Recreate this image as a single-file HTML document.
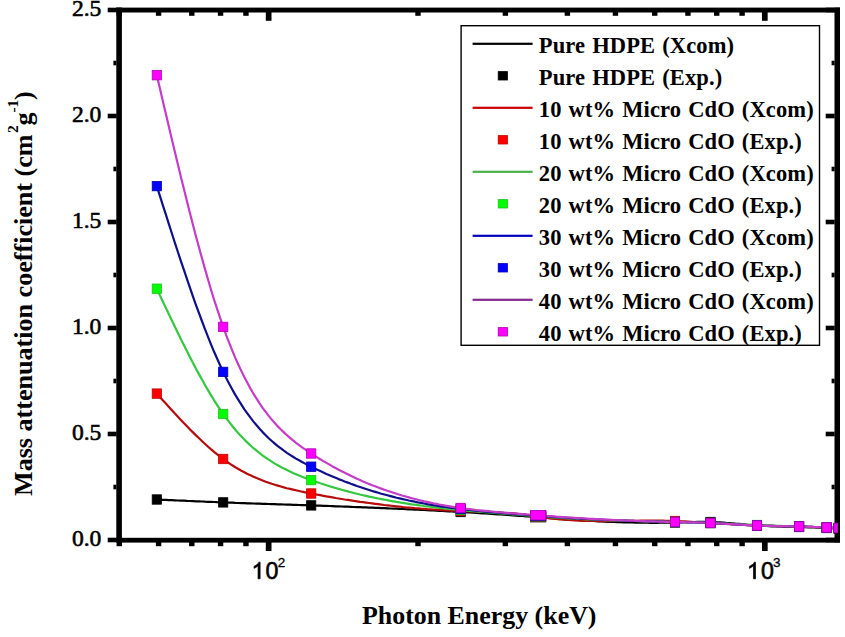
<!DOCTYPE html>
<html><head><meta charset="utf-8"><style>
html,body{margin:0;padding:0;background:#fff;}
svg{display:block;}
.yt{font-family:"Liberation Serif",serif;font-size:23.6px;fill:#000;stroke:#000;stroke-width:0.6px;}
.xt{font-family:"Liberation Sans",sans-serif;font-size:23.2px;fill:#000;stroke:#000;stroke-width:0.6px;}
.xs{font-family:"Liberation Sans",sans-serif;font-size:13.5px;fill:#000;stroke:#000;stroke-width:0.3px;}
.lg{font-family:"Liberation Serif",serif;font-size:22.5px;font-weight:bold;word-spacing:1.3px;letter-spacing:0.12px;fill:#000;}
.tt{font-family:"Liberation Serif",serif;font-size:25.9px;font-weight:bold;fill:#000;}
.tt2{font-family:"Liberation Serif",serif;font-size:26.1px;font-weight:bold;fill:#000;}
.ts{font-family:"Liberation Serif",serif;font-size:15.5px;font-weight:bold;fill:#000;}
</style></head><body>
<svg width="845" height="637" viewBox="0 0 845 637">
<defs><clipPath id="pc"><rect x="119.3" y="0" width="718.2" height="540"/></clipPath></defs>
<rect x="116.3" y="7.5" width="5.6" height="535" fill="#000"/>
<rect x="834.5" y="7.5" width="5.5" height="535" fill="#000"/>
<rect x="116.3" y="7.6" width="723.7" height="4.9" fill="#000"/>
<rect x="116.3" y="537.8" width="723.7" height="4.8" fill="#000"/>
<rect x="107.7" y="537.7" width="9" height="4.6" fill="#000"/>
<rect x="825.7" y="537.7" width="9" height="4.6" fill="#000"/>
<rect x="107.7" y="431.7" width="9" height="4.6" fill="#000"/>
<rect x="825.7" y="431.7" width="9" height="4.6" fill="#000"/>
<rect x="107.7" y="325.7" width="9" height="4.6" fill="#000"/>
<rect x="825.7" y="325.7" width="9" height="4.6" fill="#000"/>
<rect x="107.7" y="219.7" width="9" height="4.6" fill="#000"/>
<rect x="825.7" y="219.7" width="9" height="4.6" fill="#000"/>
<rect x="107.7" y="113.7" width="9" height="4.6" fill="#000"/>
<rect x="825.7" y="113.7" width="9" height="4.6" fill="#000"/>
<rect x="107.7" y="7.7" width="9" height="4.6" fill="#000"/>
<rect x="825.7" y="7.7" width="9" height="4.6" fill="#000"/>
<rect x="113.4" y="484.7" width="3" height="4.6" fill="#000"/>
<rect x="831.6" y="484.7" width="3" height="4.6" fill="#000"/>
<rect x="113.4" y="378.7" width="3" height="4.6" fill="#000"/>
<rect x="831.6" y="378.7" width="3" height="4.6" fill="#000"/>
<rect x="113.4" y="272.7" width="3" height="4.6" fill="#000"/>
<rect x="831.6" y="272.7" width="3" height="4.6" fill="#000"/>
<rect x="113.4" y="166.7" width="3" height="4.6" fill="#000"/>
<rect x="831.6" y="166.7" width="3" height="4.6" fill="#000"/>
<rect x="113.4" y="60.7" width="3" height="4.6" fill="#000"/>
<rect x="831.6" y="60.7" width="3" height="4.6" fill="#000"/>
<rect x="265.80" y="542" width="5.7" height="9" fill="#000"/>
<rect x="265.80" y="12" width="5.7" height="8.8" fill="#000"/>
<rect x="761.95" y="542" width="5.7" height="9" fill="#000"/>
<rect x="761.95" y="12" width="5.7" height="8.8" fill="#000"/>
<rect x="116.59" y="542" width="5.4" height="4.2" fill="#000"/>
<rect x="116.59" y="12" width="5.4" height="3.8" fill="#000"/>
<rect x="155.88" y="542" width="5.4" height="4.2" fill="#000"/>
<rect x="155.88" y="12" width="5.4" height="3.8" fill="#000"/>
<rect x="189.10" y="542" width="5.4" height="4.2" fill="#000"/>
<rect x="189.10" y="12" width="5.4" height="3.8" fill="#000"/>
<rect x="217.87" y="542" width="5.4" height="4.2" fill="#000"/>
<rect x="217.87" y="12" width="5.4" height="3.8" fill="#000"/>
<rect x="243.25" y="542" width="5.4" height="4.2" fill="#000"/>
<rect x="243.25" y="12" width="5.4" height="3.8" fill="#000"/>
<rect x="415.31" y="542" width="5.4" height="4.2" fill="#000"/>
<rect x="415.31" y="12" width="5.4" height="3.8" fill="#000"/>
<rect x="502.67" y="542" width="5.4" height="4.2" fill="#000"/>
<rect x="502.67" y="12" width="5.4" height="3.8" fill="#000"/>
<rect x="564.66" y="542" width="5.4" height="4.2" fill="#000"/>
<rect x="564.66" y="12" width="5.4" height="3.8" fill="#000"/>
<rect x="612.74" y="542" width="5.4" height="4.2" fill="#000"/>
<rect x="612.74" y="12" width="5.4" height="3.8" fill="#000"/>
<rect x="652.03" y="542" width="5.4" height="4.2" fill="#000"/>
<rect x="652.03" y="12" width="5.4" height="3.8" fill="#000"/>
<rect x="685.25" y="542" width="5.4" height="4.2" fill="#000"/>
<rect x="685.25" y="12" width="5.4" height="3.8" fill="#000"/>
<rect x="714.02" y="542" width="5.4" height="4.2" fill="#000"/>
<rect x="714.02" y="12" width="5.4" height="3.8" fill="#000"/>
<rect x="739.40" y="542" width="5.4" height="4.2" fill="#000"/>
<rect x="739.40" y="12" width="5.4" height="3.8" fill="#000"/>
<g clip-path="url(#pc)">
<path d="M156.8,499.5 L159.8,499.6 L162.8,499.8 L165.9,499.9 L168.9,500.1 L171.9,500.2 L174.9,500.3 L177.9,500.5 L180.9,500.6 L184.0,500.7 L187.0,500.9 L190.0,501.0 L193.0,501.1 L196.0,501.3 L199.1,501.4 L202.1,501.5 L205.1,501.7 L208.1,501.8 L211.1,501.9 L214.1,502.0 L217.2,502.2 L220.2,502.3 L223.2,502.4 L226.2,502.5 L229.3,502.6 L232.3,502.7 L235.3,502.9 L238.4,503.0 L241.4,503.1 L244.4,503.2 L247.5,503.3 L250.5,503.4 L253.5,503.5 L256.6,503.6 L259.6,503.7 L262.6,503.8 L265.7,503.9 L268.7,504.0 L271.8,504.1 L274.8,504.2 L277.8,504.3 L280.9,504.4 L283.9,504.5 L286.9,504.6 L290.0,504.7 L293.0,504.8 L296.0,504.9 L299.1,505.0 L302.1,505.1 L305.1,505.2 L308.2,505.3 L311.2,505.4 L314.2,505.5 L317.3,505.6 L320.3,505.7 L323.4,505.8 L326.4,505.9 L329.5,506.0 L332.5,506.1 L335.6,506.3 L338.6,506.4 L341.7,506.5 L344.7,506.6 L347.8,506.7 L350.8,506.8 L353.9,507.0 L356.9,507.1 L360.0,507.2 L363.0,507.3 L366.1,507.4 L369.1,507.6 L372.2,507.7 L375.2,507.8 L378.3,507.9 L381.3,508.1 L384.4,508.2 L387.4,508.3 L390.5,508.5 L393.5,508.6 L396.6,508.7 L399.6,508.9 L402.7,509.0 L405.7,509.2 L408.8,509.3 L411.8,509.5 L414.9,509.6 L417.9,509.7 L421.0,509.9 L424.0,510.0 L427.1,510.2 L430.1,510.4 L433.2,510.5 L436.2,510.7 L439.3,510.8 L442.3,511.0 L445.4,511.2 L448.4,511.3 L451.5,511.5 L454.5,511.7 L457.6,511.8 L460.6,512.0 L463.7,512.2 L466.8,512.4 L469.9,512.5 L473.0,512.7 L476.1,512.9 L479.2,513.1 L482.3,513.3 L485.4,513.5 L488.5,513.7 L491.6,513.9 L494.7,514.1 L497.8,514.3 L500.9,514.5 L504.0,514.7 L507.1,514.9 L510.2,515.1 L513.3,515.4 L516.4,515.6 L519.5,515.8 L522.6,516.0 L525.7,516.3 L528.8,516.5 L531.9,516.8 L535.0,517.0 L538.1,517.2 L541.2,517.5 L544.2,517.7 L547.3,518.0 L550.3,518.2 L553.4,518.4 L556.4,518.7 L559.4,518.9 L562.5,519.1 L565.5,519.3 L568.6,519.5 L571.6,519.7 L574.7,519.9 L577.7,520.1 L580.7,520.3 L583.8,520.5 L586.8,520.7 L589.9,520.9 L592.9,521.0 L595.9,521.2 L599.0,521.3 L602.0,521.5 L605.1,521.6 L608.1,521.8 L611.1,521.9 L614.2,522.0 L617.2,522.1 L620.3,522.2 L623.3,522.3 L626.3,522.4 L629.4,522.5 L632.4,522.5 L635.5,522.6 L638.5,522.7 L641.5,522.7 L644.6,522.7 L647.6,522.7 L650.7,522.8 L653.7,522.8 L656.8,522.8 L659.8,522.7 L662.8,522.7 L665.9,522.7 L668.9,522.6 L672.0,522.6 L675.0,522.5 L678.2,522.4 L681.5,522.3 L684.7,522.2 L687.9,522.1 L691.1,522.0 L694.4,522.0 L697.6,521.9 L700.8,521.9 L704.0,521.9 L707.3,521.9 L710.5,522.0 L713.6,522.1 L716.7,522.3 L719.8,522.4 L722.9,522.6 L726.0,522.9 L729.1,523.1 L732.2,523.4 L735.3,523.7 L738.4,523.9 L741.5,524.2 L744.6,524.5 L747.7,524.8 L750.8,525.0 L753.9,525.3 L757.0,525.5 L760.0,525.7 L763.0,525.9 L766.0,526.0 L769.0,526.1 L772.0,526.3 L775.0,526.4 L778.0,526.5 L781.1,526.5 L784.1,526.6 L787.1,526.7 L790.1,526.8 L793.1,526.8 L796.1,526.9 L799.1,527.0 L802.2,527.1 L805.2,527.2 L808.3,527.3 L811.3,527.4 L814.4,527.5 L817.4,527.6 L820.5,527.8 L823.5,527.9 L826.6,528.0 L830.6,528.2 L834.5,528.3 L838.5,528.5" fill="none" stroke="#000000" stroke-width="2.2" stroke-linejoin="round"/>
<path d="M156.8,393.6 L159.8,396.9 L162.8,400.3 L165.9,403.6 L168.9,406.9 L171.9,410.2 L174.9,413.5 L177.9,416.8 L180.9,420.0 L184.0,423.2 L187.0,426.3 L190.0,429.4 L193.0,432.4 L196.0,435.4 L199.1,438.3 L202.1,441.2 L205.1,444.0 L208.1,446.7 L211.1,449.3 L214.1,451.9 L217.2,454.4 L220.2,456.7 L223.2,459.0 L226.2,461.2 L229.3,463.3 L232.3,465.3 L235.3,467.2 L238.4,469.0 L241.4,470.7 L244.4,472.3 L247.5,473.9 L250.5,475.3 L253.5,476.7 L256.6,478.1 L259.6,479.3 L262.6,480.5 L265.7,481.7 L268.7,482.7 L271.8,483.8 L274.8,484.7 L277.8,485.6 L280.9,486.5 L283.9,487.4 L286.9,488.2 L290.0,488.9 L293.0,489.6 L296.0,490.3 L299.1,491.0 L302.1,491.7 L305.1,492.3 L308.2,492.9 L311.2,493.5 L314.2,494.1 L317.3,494.7 L320.3,495.2 L323.4,495.8 L326.4,496.4 L329.5,496.9 L332.5,497.4 L335.6,498.0 L338.6,498.5 L341.7,499.0 L344.7,499.5 L347.8,499.9 L350.8,500.4 L353.9,500.9 L356.9,501.3 L360.0,501.8 L363.0,502.2 L366.1,502.6 L369.1,503.0 L372.2,503.4 L375.2,503.8 L378.3,504.2 L381.3,504.6 L384.4,505.0 L387.4,505.3 L390.5,505.7 L393.5,506.0 L396.6,506.3 L399.6,506.6 L402.7,507.0 L405.7,507.3 L408.8,507.5 L411.8,507.8 L414.9,508.1 L417.9,508.3 L421.0,508.6 L424.0,508.8 L427.1,509.1 L430.1,509.3 L433.2,509.5 L436.2,509.7 L439.3,509.9 L442.3,510.1 L445.4,510.3 L448.4,510.4 L451.5,510.6 L454.5,510.7 L457.6,510.9 L460.6,511.0 L463.7,511.1 L466.8,511.2 L469.9,511.3 L473.0,511.5 L476.1,511.6 L479.2,511.7 L482.3,511.8 L485.4,511.9 L488.5,512.0 L491.6,512.1 L494.7,512.3 L497.8,512.4 L500.9,512.6 L504.0,512.8 L507.1,513.0 L510.2,513.2 L513.3,513.4 L516.4,513.7 L519.5,514.0 L522.6,514.3 L525.7,514.7 L528.8,515.1 L531.9,515.5 L535.0,516.0 L538.1,516.5 L541.2,517.0 L544.2,517.5 L547.3,517.9 L550.3,518.3 L553.4,518.6 L556.4,519.0 L559.4,519.3 L562.5,519.5 L565.5,519.8 L568.6,520.0 L571.6,520.2 L574.7,520.4 L577.7,520.5 L580.7,520.7 L583.8,520.8 L586.8,520.9 L589.9,520.9 L592.9,521.0 L595.9,521.0 L599.0,521.1 L602.0,521.1 L605.1,521.1 L608.1,521.1 L611.1,521.1 L614.2,521.0 L617.2,521.0 L620.3,521.0 L623.3,520.9 L626.3,520.9 L629.4,520.9 L632.4,520.8 L635.5,520.8 L638.5,520.8 L641.5,520.7 L644.6,520.7 L647.6,520.7 L650.7,520.7 L653.7,520.7 L656.8,520.7 L659.8,520.7 L662.8,520.7 L665.9,520.8 L668.9,520.8 L672.0,520.9 L675.0,521.0 L678.2,521.1 L681.5,521.3 L684.7,521.4 L687.9,521.6 L691.1,521.8 L694.4,522.0 L697.6,522.2 L700.8,522.4 L704.0,522.6 L707.3,522.8 L710.5,523.0 L713.6,523.2 L716.7,523.4 L719.8,523.6 L722.9,523.8 L726.0,524.0 L729.1,524.2 L732.2,524.3 L735.3,524.5 L738.4,524.7 L741.5,524.8 L744.6,525.0 L747.7,525.1 L750.8,525.3 L753.9,525.4 L757.0,525.5 L760.0,525.6 L763.0,525.7 L766.0,525.8 L769.0,525.8 L772.0,525.9 L775.0,526.0 L778.0,526.0 L781.1,526.1 L784.1,526.2 L787.1,526.2 L790.1,526.3 L793.1,526.3 L796.1,526.4 L799.1,526.5 L802.2,526.6 L805.2,526.7 L808.3,526.8 L811.3,526.9 L814.4,527.0 L817.4,527.1 L820.5,527.2 L823.5,527.4 L826.6,527.5 L830.6,527.7 L834.5,527.8 L838.5,528.0" fill="none" stroke="#b80c0c" stroke-width="2.2" stroke-linejoin="round"/>
<path d="M156.8,288.7 L159.8,295.1 L162.8,301.5 L165.9,307.9 L168.9,314.2 L171.9,320.5 L174.9,326.8 L177.9,333.0 L180.9,339.2 L184.0,345.3 L187.0,351.3 L190.0,357.2 L193.0,363.0 L196.0,368.8 L199.1,374.4 L202.1,379.8 L205.1,385.2 L208.1,390.4 L211.1,395.4 L214.1,400.3 L217.2,405.1 L220.2,409.6 L223.2,414.0 L226.2,418.2 L229.3,422.2 L232.3,426.0 L235.3,429.7 L238.4,433.2 L241.4,436.5 L244.4,439.6 L247.5,442.6 L250.5,445.5 L253.5,448.2 L256.6,450.7 L259.6,453.2 L262.6,455.5 L265.7,457.6 L268.7,459.7 L271.8,461.7 L274.8,463.6 L277.8,465.3 L280.9,467.0 L283.9,468.6 L286.9,470.1 L290.0,471.5 L293.0,472.9 L296.0,474.2 L299.1,475.5 L302.1,476.7 L305.1,477.9 L308.2,479.0 L311.2,480.1 L314.2,481.2 L317.3,482.2 L320.3,483.3 L323.4,484.3 L326.4,485.2 L329.5,486.2 L332.5,487.1 L335.6,488.0 L338.6,488.9 L341.7,489.8 L344.7,490.6 L347.8,491.4 L350.8,492.2 L353.9,493.0 L356.9,493.7 L360.0,494.5 L363.0,495.2 L366.1,495.9 L369.1,496.6 L372.2,497.2 L375.2,497.9 L378.3,498.5 L381.3,499.1 L384.4,499.7 L387.4,500.2 L390.5,500.8 L393.5,501.3 L396.6,501.9 L399.6,502.4 L402.7,502.9 L405.7,503.3 L408.8,503.8 L411.8,504.3 L414.9,504.7 L417.9,505.1 L421.0,505.5 L424.0,506.0 L427.1,506.3 L430.1,506.7 L433.2,507.1 L436.2,507.5 L439.3,507.8 L442.3,508.1 L445.4,508.5 L448.4,508.8 L451.5,509.1 L454.5,509.4 L457.6,509.7 L460.6,510.0 L463.7,510.3 L466.8,510.6 L469.9,510.8 L473.0,511.1 L476.1,511.4 L479.2,511.6 L482.3,511.9 L485.4,512.1 L488.5,512.4 L491.6,512.6 L494.7,512.9 L497.8,513.1 L500.9,513.4 L504.0,513.6 L507.1,513.8 L510.2,514.1 L513.3,514.3 L516.4,514.5 L519.5,514.8 L522.6,515.0 L525.7,515.3 L528.8,515.5 L531.9,515.8 L535.0,516.0 L538.1,516.3 L541.2,516.5 L544.2,516.7 L547.3,517.0 L550.3,517.2 L553.4,517.4 L556.4,517.6 L559.4,517.8 L562.5,518.0 L565.5,518.2 L568.6,518.4 L571.6,518.5 L574.7,518.7 L577.7,518.9 L580.7,519.0 L583.8,519.2 L586.8,519.3 L589.9,519.4 L592.9,519.6 L595.9,519.7 L599.0,519.8 L602.0,520.0 L605.1,520.1 L608.1,520.2 L611.1,520.3 L614.2,520.4 L617.2,520.5 L620.3,520.6 L623.3,520.7 L626.3,520.8 L629.4,520.9 L632.4,520.9 L635.5,521.0 L638.5,521.1 L641.5,521.2 L644.6,521.3 L647.6,521.3 L650.7,521.4 L653.7,521.5 L656.8,521.6 L659.8,521.6 L662.8,521.7 L665.9,521.8 L668.9,521.9 L672.0,521.9 L675.0,522.0 L678.2,522.1 L681.5,522.2 L684.7,522.2 L687.9,522.3 L691.1,522.4 L694.4,522.5 L697.6,522.6 L700.8,522.7 L704.0,522.8 L707.3,522.9 L710.5,523.0 L713.6,523.1 L716.7,523.2 L719.8,523.4 L722.9,523.5 L726.0,523.6 L729.1,523.8 L732.2,523.9 L735.3,524.0 L738.4,524.2 L741.5,524.3 L744.6,524.5 L747.7,524.6 L750.8,524.7 L753.9,524.9 L757.0,525.0 L760.0,525.1 L763.0,525.2 L766.0,525.4 L769.0,525.5 L772.0,525.6 L775.0,525.7 L778.0,525.8 L781.1,525.9 L784.1,526.0 L787.1,526.1 L790.1,526.2 L793.1,526.3 L796.1,526.4 L799.1,526.5 L802.2,526.6 L805.2,526.7 L808.3,526.8 L811.3,526.9 L814.4,527.0 L817.4,527.1 L820.5,527.3 L823.5,527.4 L826.6,527.5 L830.6,527.7 L834.5,527.8 L838.5,528.0" fill="none" stroke="#34c840" stroke-width="2.2" stroke-linejoin="round"/>
<path d="M156.8,186.1 L159.8,195.6 L162.8,205.1 L165.9,214.6 L168.9,224.1 L171.9,233.5 L174.9,242.8 L177.9,252.0 L180.9,261.2 L184.0,270.2 L187.0,279.1 L190.0,287.9 L193.0,296.6 L196.0,305.1 L199.1,313.4 L202.1,321.5 L205.1,329.4 L208.1,337.1 L211.1,344.6 L214.1,351.8 L217.2,358.8 L220.2,365.5 L223.2,371.9 L226.2,378.1 L229.3,383.9 L232.3,389.5 L235.3,394.9 L238.4,399.9 L241.4,404.7 L244.4,409.3 L247.5,413.6 L250.5,417.7 L253.5,421.6 L256.6,425.3 L259.6,428.8 L262.6,432.1 L265.7,435.2 L268.7,438.2 L271.8,441.0 L274.8,443.6 L277.8,446.1 L280.9,448.4 L283.9,450.7 L286.9,452.8 L290.0,454.8 L293.0,456.7 L296.0,458.6 L299.1,460.3 L302.1,462.0 L305.1,463.6 L308.2,465.2 L311.2,466.7 L314.2,468.2 L317.3,469.7 L320.3,471.1 L323.4,472.5 L326.4,473.9 L329.5,475.2 L332.5,476.5 L335.6,477.8 L338.6,479.1 L341.7,480.3 L344.7,481.5 L347.8,482.6 L350.8,483.8 L353.9,484.9 L356.9,486.0 L360.0,487.0 L363.0,488.0 L366.1,489.0 L369.1,490.0 L372.2,491.0 L375.2,491.9 L378.3,492.8 L381.3,493.7 L384.4,494.5 L387.4,495.3 L390.5,496.1 L393.5,496.9 L396.6,497.7 L399.6,498.4 L402.7,499.1 L405.7,499.8 L408.8,500.5 L411.8,501.1 L414.9,501.7 L417.9,502.4 L421.0,502.9 L424.0,503.5 L427.1,504.1 L430.1,504.6 L433.2,505.1 L436.2,505.6 L439.3,506.1 L442.3,506.6 L445.4,507.0 L448.4,507.4 L451.5,507.8 L454.5,508.2 L457.6,508.6 L460.6,509.0 L463.7,509.4 L466.8,509.7 L469.9,510.0 L473.0,510.4 L476.1,510.7 L479.2,511.0 L482.3,511.3 L485.4,511.6 L488.5,511.8 L491.6,512.1 L494.7,512.4 L497.8,512.6 L500.9,512.9 L504.0,513.1 L507.1,513.3 L510.2,513.6 L513.3,513.8 L516.4,514.1 L519.5,514.3 L522.6,514.5 L525.7,514.8 L528.8,515.0 L531.9,515.3 L535.0,515.5 L538.1,515.8 L541.2,516.0 L544.2,516.2 L547.3,516.5 L550.3,516.7 L553.4,516.9 L556.4,517.1 L559.4,517.3 L562.5,517.5 L565.5,517.7 L568.6,517.9 L571.6,518.1 L574.7,518.3 L577.7,518.5 L580.7,518.6 L583.8,518.8 L586.8,519.0 L589.9,519.1 L592.9,519.3 L595.9,519.4 L599.0,519.6 L602.0,519.7 L605.1,519.8 L608.1,520.0 L611.1,520.1 L614.2,520.2 L617.2,520.3 L620.3,520.4 L623.3,520.6 L626.3,520.7 L629.4,520.8 L632.4,520.9 L635.5,521.0 L638.5,521.1 L641.5,521.2 L644.6,521.2 L647.6,521.3 L650.7,521.4 L653.7,521.5 L656.8,521.6 L659.8,521.6 L662.8,521.7 L665.9,521.8 L668.9,521.9 L672.0,521.9 L675.0,522.0 L678.2,522.1 L681.5,522.1 L684.7,522.2 L687.9,522.3 L691.1,522.4 L694.4,522.4 L697.6,522.5 L700.8,522.6 L704.0,522.7 L707.3,522.9 L710.5,523.0 L713.6,523.1 L716.7,523.3 L719.8,523.5 L722.9,523.6 L726.0,523.8 L729.1,524.0 L732.2,524.2 L735.3,524.4 L738.4,524.6 L741.5,524.7 L744.6,524.9 L747.7,525.1 L750.8,525.2 L753.9,525.4 L757.0,525.5 L760.0,525.6 L763.0,525.7 L766.0,525.8 L769.0,525.9 L772.0,525.9 L775.0,526.0 L778.0,526.1 L781.1,526.1 L784.1,526.2 L787.1,526.2 L790.1,526.3 L793.1,526.4 L796.1,526.4 L799.1,526.5 L802.2,526.6 L805.2,526.7 L808.3,526.8 L811.3,526.9 L814.4,527.0 L817.4,527.1 L820.5,527.2 L823.5,527.4 L826.6,527.5 L830.6,527.7 L834.5,527.8 L838.5,528.0" fill="none" stroke="#10108c" stroke-width="2.2" stroke-linejoin="round"/>
<path d="M156.8,75.2 L159.8,88.1 L162.8,101.0 L165.9,113.9 L168.9,126.7 L171.9,139.4 L174.9,152.1 L177.9,164.6 L180.9,177.0 L184.0,189.3 L187.0,201.4 L190.0,213.3 L193.0,225.0 L196.0,236.5 L199.1,247.7 L202.1,258.7 L205.1,269.4 L208.1,279.8 L211.1,290.0 L214.1,299.7 L217.2,309.2 L220.2,318.2 L223.2,326.9 L226.2,335.2 L229.3,343.1 L232.3,350.7 L235.3,357.9 L238.4,364.7 L241.4,371.1 L244.4,377.3 L247.5,383.1 L250.5,388.6 L253.5,393.8 L256.6,398.7 L259.6,403.4 L262.6,407.8 L265.7,411.9 L268.7,415.9 L271.8,419.6 L274.8,423.1 L277.8,426.4 L280.9,429.5 L283.9,432.4 L286.9,435.2 L290.0,437.9 L293.0,440.4 L296.0,442.8 L299.1,445.1 L302.1,447.3 L305.1,449.4 L308.2,451.5 L311.2,453.5 L314.2,455.5 L317.3,457.4 L320.3,459.3 L323.4,461.1 L326.4,462.9 L329.5,464.6 L332.5,466.4 L335.6,468.0 L338.6,469.7 L341.7,471.3 L344.7,472.8 L347.8,474.3 L350.8,475.8 L353.9,477.3 L356.9,478.7 L360.0,480.0 L363.0,481.4 L366.1,482.7 L369.1,483.9 L372.2,485.2 L375.2,486.3 L378.3,487.5 L381.3,488.6 L384.4,489.7 L387.4,490.8 L390.5,491.8 L393.5,492.8 L396.6,493.8 L399.6,494.7 L402.7,495.7 L405.7,496.5 L408.8,497.4 L411.8,498.2 L414.9,499.0 L417.9,499.8 L421.0,500.5 L424.0,501.3 L427.1,501.9 L430.1,502.6 L433.2,503.3 L436.2,503.9 L439.3,504.5 L442.3,505.0 L445.4,505.6 L448.4,506.1 L451.5,506.6 L454.5,507.1 L457.6,507.6 L460.6,508.0 L463.7,508.4 L466.8,508.8 L469.9,509.2 L473.0,509.6 L476.1,510.0 L479.2,510.3 L482.3,510.6 L485.4,510.9 L488.5,511.2 L491.6,511.5 L494.7,511.8 L497.8,512.1 L500.9,512.3 L504.0,512.6 L507.1,512.8 L510.2,513.1 L513.3,513.3 L516.4,513.6 L519.5,513.8 L522.6,514.0 L525.7,514.3 L528.8,514.5 L531.9,514.8 L535.0,515.0 L538.1,515.3 L541.2,515.5 L544.2,515.7 L547.3,516.0 L550.3,516.2 L553.4,516.4 L556.4,516.7 L559.4,516.9 L562.5,517.1 L565.5,517.3 L568.6,517.5 L571.6,517.7 L574.7,517.9 L577.7,518.1 L580.7,518.2 L583.8,518.4 L586.8,518.6 L589.9,518.8 L592.9,518.9 L595.9,519.1 L599.0,519.3 L602.0,519.4 L605.1,519.6 L608.1,519.7 L611.1,519.8 L614.2,520.0 L617.2,520.1 L620.3,520.2 L623.3,520.4 L626.3,520.5 L629.4,520.6 L632.4,520.7 L635.5,520.8 L638.5,520.9 L641.5,521.1 L644.6,521.2 L647.6,521.3 L650.7,521.3 L653.7,521.4 L656.8,521.5 L659.8,521.6 L662.8,521.7 L665.9,521.8 L668.9,521.9 L672.0,521.9 L675.0,522.0 L678.2,522.1 L681.5,522.1 L684.7,522.2 L687.9,522.3 L691.1,522.4 L694.4,522.4 L697.6,522.5 L700.8,522.6 L704.0,522.7 L707.3,522.9 L710.5,523.0 L713.6,523.1 L716.7,523.3 L719.8,523.5 L722.9,523.6 L726.0,523.8 L729.1,524.0 L732.2,524.2 L735.3,524.4 L738.4,524.6 L741.5,524.7 L744.6,524.9 L747.7,525.1 L750.8,525.2 L753.9,525.4 L757.0,525.5 L760.0,525.6 L763.0,525.7 L766.0,525.8 L769.0,525.9 L772.0,525.9 L775.0,526.0 L778.0,526.1 L781.1,526.1 L784.1,526.2 L787.1,526.2 L790.1,526.3 L793.1,526.4 L796.1,526.4 L799.1,526.5 L802.2,526.6 L805.2,526.7 L808.3,526.8 L811.3,526.9 L814.4,527.0 L817.4,527.1 L820.5,527.2 L823.5,527.4 L826.6,527.5 L830.6,527.7 L834.5,527.8 L838.5,528.0" fill="none" stroke="#c43cc8" stroke-width="2.2" stroke-linejoin="round"/>
<rect x="152.20" y="494.80" width="9.2" height="9.4" fill="#000000" stroke="#000000" stroke-width="0.8"/>
<rect x="218.60" y="497.70" width="9.2" height="9.4" fill="#000000" stroke="#000000" stroke-width="0.8"/>
<rect x="306.60" y="500.70" width="9.2" height="9.4" fill="#000000" stroke="#000000" stroke-width="0.8"/>
<rect x="456.00" y="507.30" width="9.2" height="9.4" fill="#000000" stroke="#000000" stroke-width="0.8"/>
<rect x="530.40" y="512.55" width="15.40" height="9.4" fill="#000000" stroke="#000000" stroke-width="0.8"/>
<rect x="670.40" y="517.80" width="9.2" height="9.4" fill="#000000" stroke="#000000" stroke-width="0.8"/>
<rect x="705.90" y="517.30" width="9.2" height="9.4" fill="#000000" stroke="#000000" stroke-width="0.8"/>
<rect x="752.40" y="520.80" width="9.2" height="9.4" fill="#000000" stroke="#000000" stroke-width="0.8"/>
<rect x="794.50" y="522.30" width="9.2" height="9.4" fill="#000000" stroke="#000000" stroke-width="0.8"/>
<rect x="822.00" y="523.30" width="9.2" height="9.4" fill="#000000" stroke="#000000" stroke-width="0.8"/>
<rect x="833.90" y="523.80" width="9.2" height="9.4" fill="#000000" stroke="#000000" stroke-width="0.8"/>
<rect x="152.20" y="388.90" width="9.2" height="9.4" fill="#ff0000" stroke="#c00000" stroke-width="0.8"/>
<rect x="218.60" y="454.30" width="9.2" height="9.4" fill="#ff0000" stroke="#c00000" stroke-width="0.8"/>
<rect x="306.60" y="488.80" width="9.2" height="9.4" fill="#ff0000" stroke="#c00000" stroke-width="0.8"/>
<rect x="456.00" y="506.30" width="9.2" height="9.4" fill="#ff0000" stroke="#c00000" stroke-width="0.8"/>
<rect x="530.40" y="511.80" width="15.40" height="9.4" fill="#ff0000" stroke="#c00000" stroke-width="0.8"/>
<rect x="670.40" y="516.30" width="9.2" height="9.4" fill="#ff0000" stroke="#c00000" stroke-width="0.8"/>
<rect x="705.90" y="518.30" width="9.2" height="9.4" fill="#ff0000" stroke="#c00000" stroke-width="0.8"/>
<rect x="752.40" y="520.80" width="9.2" height="9.4" fill="#ff0000" stroke="#c00000" stroke-width="0.8"/>
<rect x="794.50" y="521.80" width="9.2" height="9.4" fill="#ff0000" stroke="#c00000" stroke-width="0.8"/>
<rect x="822.00" y="522.80" width="9.2" height="9.4" fill="#ff0000" stroke="#c00000" stroke-width="0.8"/>
<rect x="833.90" y="523.30" width="9.2" height="9.4" fill="#ff0000" stroke="#c00000" stroke-width="0.8"/>
<rect x="152.20" y="284.00" width="9.2" height="9.4" fill="#00ff00" stroke="#20c020" stroke-width="0.8"/>
<rect x="218.60" y="409.30" width="9.2" height="9.4" fill="#00ff00" stroke="#20c020" stroke-width="0.8"/>
<rect x="306.60" y="475.40" width="9.2" height="9.4" fill="#00ff00" stroke="#20c020" stroke-width="0.8"/>
<rect x="456.00" y="505.30" width="9.2" height="9.4" fill="#00ff00" stroke="#20c020" stroke-width="0.8"/>
<rect x="530.40" y="511.55" width="15.40" height="9.4" fill="#00ff00" stroke="#20c020" stroke-width="0.8"/>
<rect x="670.40" y="517.30" width="9.2" height="9.4" fill="#00ff00" stroke="#20c020" stroke-width="0.8"/>
<rect x="705.90" y="518.30" width="9.2" height="9.4" fill="#00ff00" stroke="#20c020" stroke-width="0.8"/>
<rect x="752.40" y="520.30" width="9.2" height="9.4" fill="#00ff00" stroke="#20c020" stroke-width="0.8"/>
<rect x="794.50" y="521.80" width="9.2" height="9.4" fill="#00ff00" stroke="#20c020" stroke-width="0.8"/>
<rect x="822.00" y="522.80" width="9.2" height="9.4" fill="#00ff00" stroke="#20c020" stroke-width="0.8"/>
<rect x="833.90" y="523.30" width="9.2" height="9.4" fill="#00ff00" stroke="#20c020" stroke-width="0.8"/>
<rect x="152.20" y="181.40" width="9.2" height="9.4" fill="#0000ff" stroke="#0000b0" stroke-width="0.8"/>
<rect x="218.60" y="367.20" width="9.2" height="9.4" fill="#0000ff" stroke="#0000b0" stroke-width="0.8"/>
<rect x="306.60" y="462.00" width="9.2" height="9.4" fill="#0000ff" stroke="#0000b0" stroke-width="0.8"/>
<rect x="456.00" y="504.30" width="9.2" height="9.4" fill="#0000ff" stroke="#0000b0" stroke-width="0.8"/>
<rect x="530.40" y="511.05" width="15.40" height="9.4" fill="#0000ff" stroke="#0000b0" stroke-width="0.8"/>
<rect x="670.40" y="517.30" width="9.2" height="9.4" fill="#0000ff" stroke="#0000b0" stroke-width="0.8"/>
<rect x="705.90" y="518.30" width="9.2" height="9.4" fill="#0000ff" stroke="#0000b0" stroke-width="0.8"/>
<rect x="752.40" y="520.80" width="9.2" height="9.4" fill="#0000ff" stroke="#0000b0" stroke-width="0.8"/>
<rect x="794.50" y="521.80" width="9.2" height="9.4" fill="#0000ff" stroke="#0000b0" stroke-width="0.8"/>
<rect x="822.00" y="522.80" width="9.2" height="9.4" fill="#0000ff" stroke="#0000b0" stroke-width="0.8"/>
<rect x="833.90" y="523.30" width="9.2" height="9.4" fill="#0000ff" stroke="#0000b0" stroke-width="0.8"/>
<rect x="152.20" y="70.50" width="9.2" height="9.4" fill="#ff00ff" stroke="#b000b0" stroke-width="0.8"/>
<rect x="218.60" y="322.20" width="9.2" height="9.4" fill="#ff00ff" stroke="#b000b0" stroke-width="0.8"/>
<rect x="306.60" y="448.80" width="9.2" height="9.4" fill="#ff00ff" stroke="#b000b0" stroke-width="0.8"/>
<rect x="456.00" y="503.30" width="9.2" height="9.4" fill="#ff00ff" stroke="#b000b0" stroke-width="0.8"/>
<rect x="530.40" y="510.55" width="15.40" height="9.4" fill="#ff00ff" stroke="#b000b0" stroke-width="0.8"/>
<rect x="670.40" y="517.30" width="9.2" height="9.4" fill="#ff00ff" stroke="#b000b0" stroke-width="0.8"/>
<rect x="705.90" y="518.30" width="9.2" height="9.4" fill="#ff00ff" stroke="#b000b0" stroke-width="0.8"/>
<rect x="752.40" y="520.80" width="9.2" height="9.4" fill="#ff00ff" stroke="#b000b0" stroke-width="0.8"/>
<rect x="794.50" y="521.80" width="9.2" height="9.4" fill="#ff00ff" stroke="#b000b0" stroke-width="0.8"/>
<rect x="822.00" y="522.80" width="9.2" height="9.4" fill="#ff00ff" stroke="#b000b0" stroke-width="0.8"/>
<rect x="833.90" y="523.30" width="9.2" height="9.4" fill="#ff00ff" stroke="#b000b0" stroke-width="0.8"/>
</g>
<text x="101.4" y="546.4" text-anchor="end" class="yt">0.0</text>
<text x="101.4" y="440.4" text-anchor="end" class="yt">0.5</text>
<text x="101.4" y="334.4" text-anchor="end" class="yt">1.0</text>
<text x="101.4" y="228.4" text-anchor="end" class="yt">1.5</text>
<text x="101.4" y="122.4" text-anchor="end" class="yt">2.0</text>
<text x="101.4" y="16.4" text-anchor="end" class="yt">2.5</text>
<path d="M260.12,578.80 L258.06,578.80 L258.06,565.81 C257.55,566.30 256.90,566.78 256.09,567.27 C255.28,567.76 254.58,568.13 254.00,568.36 L254.00,566.39 C255.02,565.90 256.02,565.32 256.97,564.60 C257.92,563.88 258.57,563.07 258.90,562.19 L260.12,562.19 Z" fill="#000" stroke="#000" stroke-width="0.7"/>
<text x="265.60" y="578.8" class="xt">0</text>
<text x="277.70" y="566.7" class="xs">2</text>
<path d="M755.52,578.80 L753.46,578.80 L753.46,565.81 C752.95,566.30 752.30,566.78 751.49,567.27 C750.68,567.76 749.98,568.13 749.40,568.36 L749.40,566.39 C750.42,565.90 751.42,565.32 752.37,564.60 C753.32,563.88 753.97,563.07 754.30,562.19 L755.52,562.19 Z" fill="#000" stroke="#000" stroke-width="0.7"/>
<text x="761.00" y="578.8" class="xt">0</text>
<text x="773.10" y="566.7" class="xs">3</text>
<text x="362" y="623.6" class="tt">Photon Energy (keV)</text>
<text transform="translate(31.8,496.0) rotate(-90)" class="tt2">Mass attenuation coefficient (cm<tspan class="ts" x="363.0" dy="-13.9">2</tspan><tspan x="370.4" dy="13.9">g</tspan><tspan class="ts" x="383.4" dy="-13.9">-1</tspan><tspan x="396.0" dy="13.9">)</tspan></text>
<rect x="461.1" y="25.7" width="358.4" height="319.6" fill="#fff" stroke="#000" stroke-width="1.4"/>
<rect x="472.6" y="42.7" width="60" height="2.2" fill="#000000"/>
<rect x="498.2" y="71.6" width="9.2" height="8.4" fill="#000000" stroke="#000000" stroke-width="0.8"/>
<text x="538.8" y="52.6" class="lg">Pure HDPE (Xcom)</text>
<text x="538.8" y="84.6" class="lg">Pure HDPE (Exp.)</text>
<rect x="472.6" y="106.7" width="60" height="2.2" fill="#c80000"/>
<rect x="498.2" y="135.6" width="9.2" height="8.4" fill="#ff0000" stroke="#c00000" stroke-width="0.8"/>
<text x="538.8" y="116.6" class="lg">10 wt% Micro CdO (Xcom)</text>
<text x="538.8" y="148.6" class="lg">10 wt% Micro CdO (Exp.)</text>
<rect x="472.6" y="170.7" width="60" height="2.2" fill="#4cb04c"/>
<rect x="498.2" y="199.6" width="9.2" height="8.4" fill="#00ff00" stroke="#20c020" stroke-width="0.8"/>
<text x="538.8" y="180.6" class="lg">20 wt% Micro CdO (Xcom)</text>
<text x="538.8" y="212.6" class="lg">20 wt% Micro CdO (Exp.)</text>
<rect x="472.6" y="234.7" width="60" height="2.2" fill="#0000be"/>
<rect x="498.2" y="263.6" width="9.2" height="8.4" fill="#0000ff" stroke="#0000b0" stroke-width="0.8"/>
<text x="538.8" y="244.6" class="lg">30 wt% Micro CdO (Xcom)</text>
<text x="538.8" y="276.6" class="lg">30 wt% Micro CdO (Exp.)</text>
<rect x="472.6" y="298.7" width="60" height="2.2" fill="#842a8e"/>
<rect x="498.2" y="327.6" width="9.2" height="8.4" fill="#ff00ff" stroke="#b000b0" stroke-width="0.8"/>
<text x="538.8" y="308.6" class="lg">40 wt% Micro CdO (Xcom)</text>
<text x="538.8" y="340.6" class="lg">40 wt% Micro CdO (Exp.)</text>
</svg>
</body></html>
